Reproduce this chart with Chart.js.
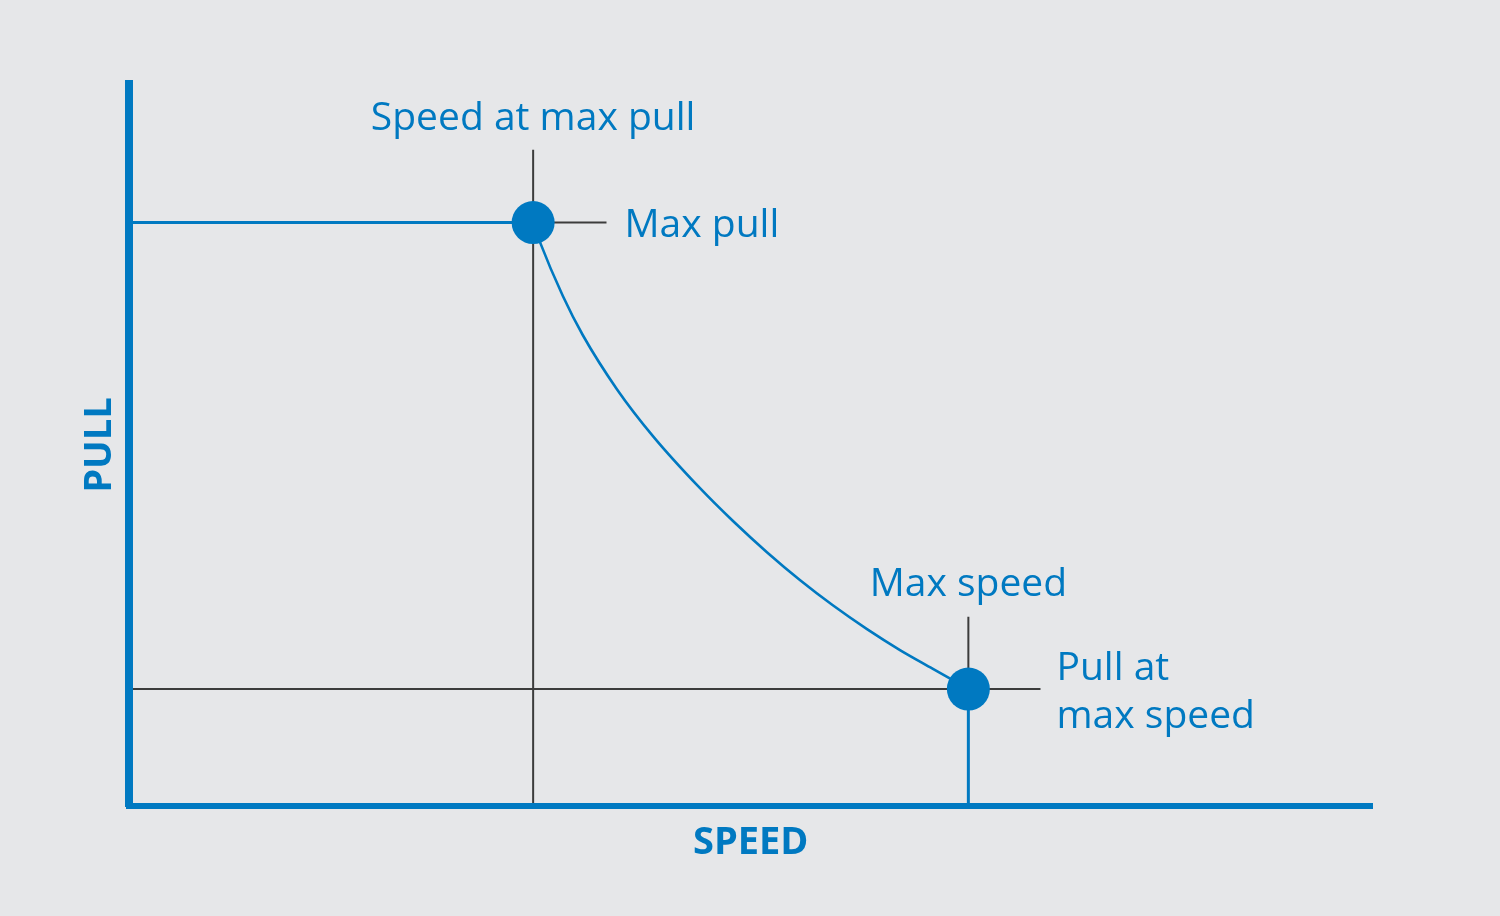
<!DOCTYPE html>
<html>
<head>
<meta charset="utf-8">
<script src="https://cdn.jsdelivr.net/npm/chart.js@4/dist/chart.umd.min.js"></script>
<style>
  html, body { margin: 0; padding: 0; background: #e6e7e9; }
  #wrap { width: 1500px; height: 916px; }
</style>
</head>
<body>
<div id="wrap"><canvas id="pullChart" width="1500" height="916"></canvas></div>
<script>
// curve (speed / pull, 0-100 scale)
const curveSpeed = [32.5, 33.05, 34.9, 36.5, 39.25, 42.15, 45.9, 48.55, 51.3, 53.95, 56.6, 59.35, 62.0, 64.65, 67.5];
const curvePull  = [80.8, 78.1, 70.6, 65.2, 57.7, 51.2, 44.05, 39.5, 35.15, 31.3, 27.8, 24.5, 21.6, 19.0, 16.2];

const keySpeed = [32.5, 67.5];   // speed at max pull, max speed
const keyPull  = [80.8, 16.2];   // max pull, pull at max speed

// where the thin guide lines stop
const speedGuideTop = [90.9, 26.2];
const pullGuideEnd  = [38.4, 73.3];

const axisTitles = ['SPEED', 'PULL'];
const pointLabels = ['Speed at max pull', 'Max pull', 'Max speed', ['Pull at', 'max speed']];

const blue = '#0079c1';
const dark = '#3c3c3c';
const font = '"Open Sans", "DejaVu Sans", sans-serif';

const seg = (x1, y1, x2, y2) => [{ x: x1, y: y1 }, { x: x2, y: y2 }];
const line = (data, color, width) => ({
  data, showLine: true, borderColor: color, borderWidth: width,
  pointRadius: 0, order: 2
});

const labelPlugin = {
  id: 'pointLabels',
  afterDatasetsDraw(chart) {
    const { ctx, scales: { x, y } } = chart;
    const px = (v) => x.getPixelForValue(v);
    const py = (v) => y.getPixelForValue(v);
    ctx.save();
    ctx.fillStyle = blue;
    ctx.font = '39px ' + font;
    ctx.textBaseline = 'alphabetic';

    ctx.textAlign = 'center';
    ctx.fillText(pointLabels[0], px(keySpeed[0]), py(speedGuideTop[0]) - 20);
    ctx.fillText(pointLabels[2], px(keySpeed[1]), py(speedGuideTop[1]) - 21);

    ctx.textAlign = 'left';
    ctx.fillText(pointLabels[1], px(pullGuideEnd[0]) + 18, py(keyPull[0]) + 14);
    pointLabels[3].forEach((t, i) => {
      ctx.fillText(t, px(pullGuideEnd[1]) + 16, py(keyPull[1]) - 9 + i * 48);
    });
    ctx.restore();
  }
};

new Chart(document.getElementById('pullChart'), {
  type: 'scatter',
  data: {
    datasets: [
      {
        data: keySpeed.map((s, i) => ({ x: s, y: keyPull[i] })),
        pointRadius: 21.5, pointBackgroundColor: blue, pointBorderWidth: 0, order: 0
      },
      {
        data: curveSpeed.map((s, i) => ({ x: s, y: curvePull[i] })),
        showLine: true, borderColor: blue, borderWidth: 2.6,
        pointRadius: 0, cubicInterpolationMode: 'monotone', order: 1
      },
      line(seg(0, keyPull[0], keySpeed[0], keyPull[0]), blue, 3),
      line(seg(keySpeed[0], keyPull[0], pullGuideEnd[0], keyPull[0]), dark, 2),
      line(seg(keySpeed[0], 0, keySpeed[0], speedGuideTop[0]), dark, 2),
      line(seg(0, keyPull[1], pullGuideEnd[1], keyPull[1]), dark, 2),
      line(seg(keySpeed[1], keyPull[1], keySpeed[1], speedGuideTop[1]), dark, 2),
      line(seg(keySpeed[1], 0, keySpeed[1], keyPull[1]), blue, 3)
    ]
  },
  options: {
    responsive: false,
    animation: false,
    events: [],
    layout: { padding: { top: 84, right: 127.5, bottom: 50.4, left: 60 } },
    plugins: { legend: { display: false }, tooltip: { enabled: false } },
    scales: {
      x: {
        min: 0, max: 100,
        grid: { display: false, drawTicks: false },
        ticks: { display: false },
        border: { display: true, color: blue, width: 6, z: 1 },
        title: {
          display: true, text: axisTitles[0], color: blue,
          font: { family: font, size: 38, weight: 'bold', lineHeight: 1.2 },
          padding: { top: 14, bottom: 0 }
        }
      },
      y: {
        min: 0, max: 100,
        grid: { display: false, drawTicks: false },
        ticks: { display: false },
        border: { display: true, color: blue, width: 8, z: 1 },
        title: {
          display: true, text: axisTitles[1], color: blue,
          font: { family: font, size: 38, weight: 'bold', lineHeight: 1.2 },
          padding: { top: 17.2, bottom: 6.2 }
        }
      }
    }
  },
  plugins: [labelPlugin]
});
</script>
</body>
</html>
